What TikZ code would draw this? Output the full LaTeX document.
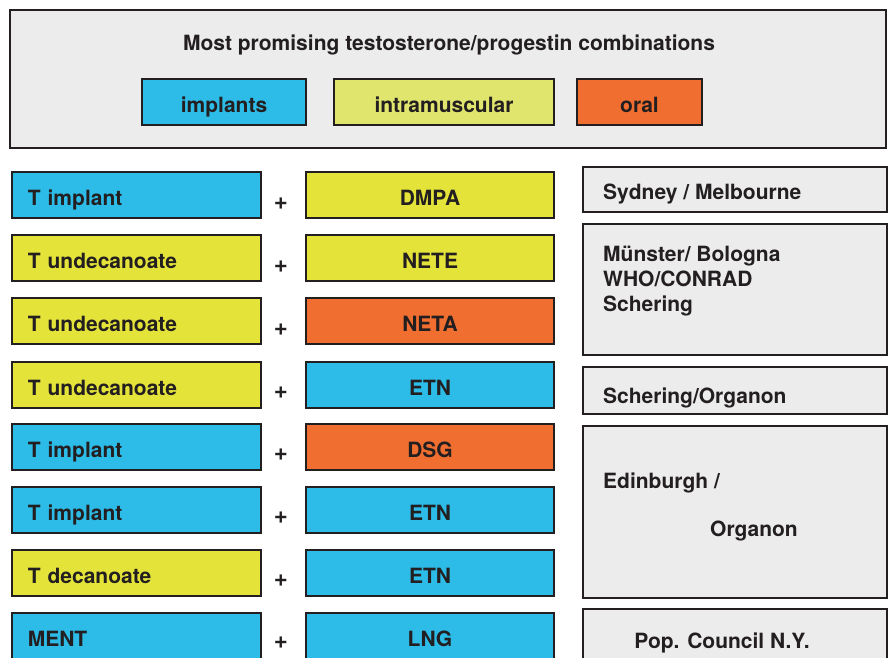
\documentclass[tikz,border=0pt]{standalone}
\usepackage{fontspec}
\setmainfont{TeX Gyre Heros}
\definecolor{edgegray}{RGB}{35,31,32}
\definecolor{panelgray}{RGB}{236,236,236}
\definecolor{implantblue}{RGB}{45,188,232}
\definecolor{imyellow}{RGB}{227,227,58}
\definecolor{legyellow}{RGB}{224,229,110}
\definecolor{oralorange}{RGB}{240,110,48}
\tikzset{
  box/.style={draw=edgegray, line width=1.6pt, minimum height=46pt, inner sep=0pt,
    text=edgegray, text height=20pt, text depth=0pt, font=\fontsize{21}{25}\selectfont\bfseries},
  tbox/.style={box, anchor=west, text width=217pt, inner xsep=16pt, align=left},
  pbox/.style={box, minimum width=248pt},
  site/.style={draw=edgegray, line width=1.6pt, fill=panelgray, minimum width=304pt, inner sep=0pt},
  sitetext/.style={inner sep=0pt, text=edgegray, font=\fontsize{21}{25}\selectfont\bfseries},
  plus/.style={text=edgegray, font=\fontsize{24}{26}\selectfont\bfseries}
}
\begin{document}
\begin{tikzpicture}[x=1pt,y=-1pt]
	\useasboundingbox (0,0) rectangle (888,657);
	% legend panel
	\node[draw=edgegray, line width=1.6pt, fill=panelgray, minimum width=876pt, minimum height=138pt] (panel) at (448,79) {};
	\node[sitetext, anchor=base] (title) at (449,50.5) {Most promising testosterone/progestin combinations};
	\node[box, fill=implantblue, minimum width=164pt] (implants) at (224,102) {implants};
	\node[box, fill=legyellow, minimum width=220pt] (intramuscular) at (444,102) {intramuscular};
	\node[box, fill=oralorange, minimum width=125pt] (oral) at (639.5,102) {oral};
	% combinations
	\node[tbox, fill=implantblue] (t1) at (11,195) {T implant};
	\node[tbox, fill=imyellow] (t2) at (11,258) {T undecanoate};
	\node[tbox, fill=imyellow] (t3) at (11,321) {T undecanoate};
	\node[tbox, fill=imyellow] (t4) at (11,385) {T undecanoate};
	\node[tbox, fill=implantblue] (t5) at (11,447) {T implant};
	\node[tbox, fill=implantblue] (t6) at (11,510) {T implant};
	\node[tbox, fill=imyellow] (t7) at (11,573) {T decanoate};
	\node[tbox, fill=implantblue] (t8) at (11,636) {MENT};
	\node[pbox, fill=imyellow] (p1) at (430,195) {DMPA};
	\node[pbox, fill=imyellow] (p2) at (430,258) {NETE};
	\node[pbox, fill=oralorange] (p3) at (430,321) {NETA};
	\node[pbox, fill=implantblue] (p4) at (430,385) {ETN};
	\node[pbox, fill=oralorange] (p5) at (430,447) {DSG};
	\node[pbox, fill=implantblue] (p6) at (430,510) {ETN};
	\node[pbox, fill=implantblue] (p7) at (430,573) {ETN};
	\node[pbox, fill=implantblue] (p8) at (430,636) {LNG};
	\node[plus] (plus1) at (281,204) {+};
	\node[plus] (plus2) at (281,267) {+};
	\node[plus] (plus3) at (281,330) {+};
	\node[plus] (plus4) at (281,393) {+};
	\node[plus] (plus5) at (281,455) {+};
	\node[plus] (plus6) at (281,518) {+};
	\node[plus] (plus7) at (281,581) {+};
	\node[plus] (plus8) at (281,643) {+};
	% groups
	\node[site, minimum height=45pt] (s1) at (735,189.5) {};
	\node[site, minimum height=131pt] (s2) at (735,289.5) {};
	\node[site, minimum height=47pt] (s3) at (735,390.5) {};
	\node[site, minimum height=172pt] (s4) at (735,512) {};
	\node[site, minimum height=52pt] (s5) at (735,635) {};
	\node[sitetext, anchor=base west] (sydney) at (603,199) {Sydney / Melbourne};
	\node[sitetext, anchor=north west, align=left] (muenster) at (603,246) {Münster/ Bologna\\WHO/CONRAD\\Schering};
	\node[sitetext, anchor=base west] (schorg) at (603,403) {Schering/Organon};
	\node[sitetext, anchor=base west] (edinburgh) at (603,488) {Edinburgh /};
	\node[sitetext, anchor=base] (organon) at (754,536) {Organon};
	\node[sitetext, anchor=base] (popcouncil) at (722,648) {Pop. Council N.Y.};
\end{tikzpicture}
\end{document}
